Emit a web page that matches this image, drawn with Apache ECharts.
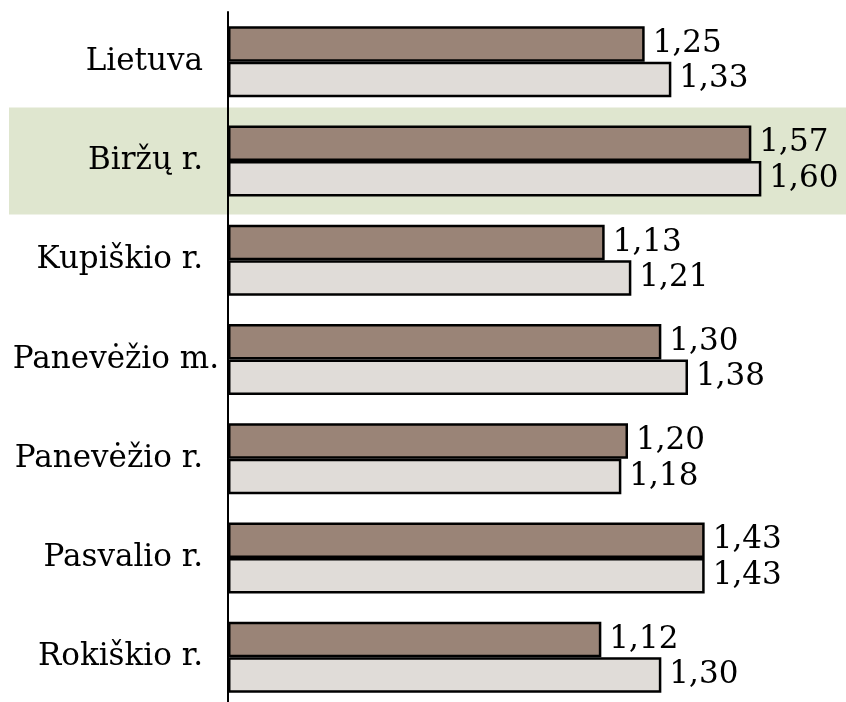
<!DOCTYPE html>
<html>
<head>
<meta charset="utf-8">
<script src="https://cdn.jsdelivr.net/npm/echarts@6/dist/echarts.min.js"></script>
<style>
    html, body { margin: 0; padding: 0; background: #fff; }
    #chart { width: 846px; height: 702px; }
</style>
</head>
<body>
<div id="chart"></div>
<script>
var categories = ['Lietuva', 'Biržų r.', 'Kupiškio r.', 'Panevėžio m.', 'Panevėžio r.', 'Pasvalio r.', 'Rokiškio r.'];
var darkValues = [1.25, 1.57, 1.13, 1.30, 1.20, 1.43, 1.12];
var lightValues = [1.33, 1.60, 1.21, 1.38, 1.18, 1.43, 1.30];
var highlighted = 'Biržų r.';

var font = 'DejaVu Serif';
var myChart = echarts.init(document.getElementById('chart'));

function fmt(p) {
    return p.value.toFixed(2).replace('.', ',');
}

function barSeries(values, color) {
    return {
        type: 'bar',
        data: values,
        barGap: 0,
        barCategoryGap: '28.5%',
        itemStyle: {
            color: color,
            borderColor: '#000',
            borderWidth: 2.5
        },
        label: {
            show: true,
            position: 'right',
            distance: 8,
            formatter: fmt,
            fontFamily: font,
            fontSize: 31,
            color: '#000'
        }
    };
}

var yData = categories.map(function (c) {
    if (c === 'Panevėžio m.') {
        return { value: c, textStyle: { padding: [0, -16, 0, 0] } };
    }
    return c;
});

var option = {
    animation: false,
    grid: {
        left: 228,
        top: 12,
        width: 600,
        height: 695,
        containLabel: false,
        outerBoundsMode: 'none'
    },
    xAxis: {
        type: 'value',
        min: 0,
        max: 1.8,
        show: false
    },
    yAxis: {
        type: 'category',
        inverse: true,
        data: yData,
        axisLine: { show: true, lineStyle: { color: '#000', width: 2 } },
        axisTick: { show: false },
        axisLabel: {
            margin: 25,
            fontFamily: font,
            fontSize: 31,
            color: '#000'
        }
    },
    series: [
        barSeries(darkValues, '#9a8477'),
        barSeries(lightValues, '#e0dcd8')
    ]
};
myChart.setOption(option);

// light green band behind the highlighted row
var cy = myChart.convertToPixel({ yAxisIndex: 0 }, highlighted);
myChart.setOption({
    graphic: [{
        type: 'rect',
        z: -10,
        shape: { x: 9, y: cy - 53.5, width: 846 - 9, height: 107 },
        style: { fill: '#dfe6cf' }
    }]
});
</script>
</body>
</html>
